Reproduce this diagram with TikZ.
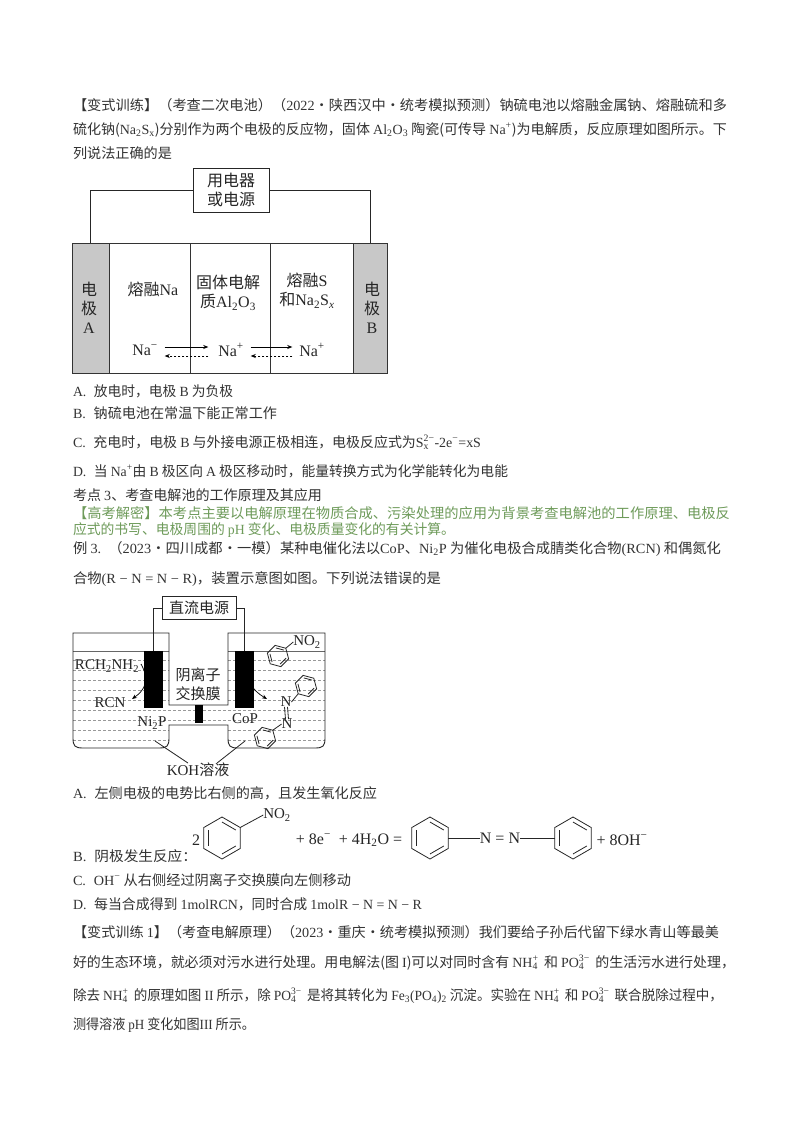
\documentclass[tikz,border=0pt]{standalone}
\usepackage{graphicx}
\usepackage{fontspec}
\setmainfont{Noto Sans CJK SC}
\newfontfamily\latfont{Liberation Serif}
\usetikzlibrary{arrows.meta,calc}
\newcommand{\lat}[1]{{\latfont #1}}
\newcommand{\opt}[1]{{\latfont #1.}\hspace{0.55em}}
\newcommand{\sbs}[1]{\textsubscript{#1}}
\newcommand{\sps}[1]{\textsuperscript{#1}}
\newcommand{\subsup}[2]{\rlap{\textsuperscript{#2}}\rlap{\textsubscript{#1}}\hphantom{\textsuperscript{#2}}}
\definecolor{ink}{HTML}{333333}
\definecolor{exam}{HTML}{6E9B5A}
\definecolor{elec}{HTML}{C8C8C8}
\definecolor{liqdash}{HTML}{999999}
\tikzset{
 textline/.style={anchor=base west,inner sep=0pt,outer sep=0pt,text=ink,font=\fontsize{14}{14}\selectfont},
 greenline/.style={textline,text=exam},
 lbl/.style={inner sep=0pt,outer sep=0pt,text=black!85,font=\fontsize{16}{19}\selectfont,align=center},
 cell/.style={draw=black!80,line width=1pt,inner sep=0pt,outer sep=0pt},
 wire/.style={draw=black!85,line width=0.9pt},
 solidarrow/.style={draw=black,line width=0.7pt,-{Stealth[length=5pt,width=4pt]}},
 dasharrow/.style={solidarrow,dash pattern=on 2.5pt off 1.5pt},
 bond/.style={draw=black!85,line width=0.8pt},
 chem/.style={inner sep=0pt,outer sep=0pt,text=black!85,font=\fontsize{15}{15}\selectfont},
}
% name, x, y, width, text
\newcommand{\tl}[6][textline]{\node[#1] (#2) at (#3,#4+5) {\resizebox{#5pt}{\height}{#6}};}
% name, x, y, radius, rotation
\newcommand{\benz}[5]{%
 \coordinate (#1) at (#2,#3);
 \begin{scope}[shift={(#2,#3)},rotate=#5]
  \foreach \i in {0,...,5}{\coordinate (#1-\i) at ({30+60*\i}:#4);}
 \end{scope}
 \draw[bond] (#1-0)--(#1-1)--(#1-2)--(#1-3)--(#1-4)--(#1-5)--cycle;
 \draw[bond] ($(#1)!0.76!(#1-0)$)--($(#1)!0.76!(#1-1)$);
 \draw[bond] ($(#1)!0.76!(#1-2)$)--($(#1)!0.76!(#1-3)$);
 \draw[bond] ($(#1)!0.76!(#1-4)$)--($(#1)!0.76!(#1-5)$);
}
\begin{document}
\begin{tikzpicture}[x=1pt,y=-1pt]
\useasboundingbox[fill=white] (0,0) rectangle (800,1132);

% ---------- top text
\tl{t1}{73}{105}{654}{【变式训练】（考查二次电池）（\lat{2022}•陕西汉中•统考模拟预测）钠硫电池以熔融金属钠、熔融硫和多}
\tl{t2}{73}{129}{654}{硫化钠(\lat{Na\sbs{2}S\sbs{x}})分别作为两个电极的反应物，固体 \lat{Al\sbs{2}O\sbs{3}} 陶瓷(可传导 \lat{Na\sps{+}})为电解质，反应原理如图所示。下}
\tl{t3}{73}{153}{99}{列说法正确的是}

% ---------- battery diagram
\node[cell,fill=elec,minimum width=37pt,minimum height=130pt] (eA) at (90.5,308) {};
\node[cell,minimum width=81pt,minimum height=130pt] (sod) at (149.5,308) {};
\node[cell,minimum width=80pt,minimum height=130pt] (sol) at (230,308) {};
\node[cell,minimum width=83pt,minimum height=130pt] (sul) at (311.5,308) {};
\node[cell,fill=elec,minimum width=34pt,minimum height=130pt] (eB) at (370,308) {};
\node[cell,fill=white,minimum width=76pt,minimum height=44pt,lbl,draw=black!85] (load) at (231,190) {用电器\\或电源};
\draw[wire] (load.west) -| (eA.north);
\draw[wire] (load.east) -| (eB.north);
\node[lbl] (la) at (89,308) {电\\极\\\lat{A}};
\node[lbl] (lb) at (372,308) {电\\极\\\lat{B}};
\node[lbl] (l1) at (153,289) {熔融\lat{Na}};
\node[lbl] (l2) at (228,293) {固体电解\\质\lat{Al\sbs{2}O\sbs{3}}};
\node[lbl] (l3) at (307,291) {熔融\lat{S}\\和\lat{Na\sbs{2}S\sbs{\textit{x}}}};
\node[lbl] (n1) at (145,350) {\lat{Na\sps{−}}};
\node[lbl] (n2) at (231,350) {\lat{Na\sps{+}}};
\node[lbl] (n3) at (312,350) {\lat{Na\sps{+}}};
\draw[solidarrow,shorten <=7pt,shorten >=10pt] ([yshift=3pt]n1.east) -- ([yshift=3pt]n2.west);
\draw[dasharrow,shorten <=10pt,shorten >=7pt] ([yshift=-6pt]n2.west) -- ([yshift=-6pt]n1.east);
\draw[solidarrow,shorten <=7pt,shorten >=7pt] ([yshift=3pt]n2.east) -- ([yshift=3pt]n3.west);
\draw[dasharrow,shorten <=7pt,shorten >=7pt] ([yshift=-6pt]n3.west) -- ([yshift=-6pt]n2.east);

% ---------- options
\tl{a1}{73}{391}{160}{\opt{A}放电时，电极 \lat{B} 为负极}
\tl{b1}{73}{413}{204}{\opt{B}钠硫电池在常温下能正常工作}
\tl{c1}{73}{442}{408}{\opt{C}充电时，电极 \lat{B} 与外接电源正极相连，电极反应式为\lat{S\subsup{x}{2−}-2e\sps{−}=xS}}
\tl{d1}{73}{471}{435}{\opt{D}当 \lat{Na\sps{+}}由 \lat{B} 极区向 \lat{A} 极区移动时，能量转换方式为化学能转化为电能}
\tl{k3}{73}{495}{249}{考点 \lat{3}、考查电解池的工作原理及其应用}
\tl[greenline]{g1}{73}{513}{657}{【高考解密】本考点主要以电解原理在物质合成、污染处理的应用为背景考查电解池的工作原理、电极反}
\tl[greenline]{g2}{73}{529}{382}{应式的书写、电极周围的 \lat{pH} 变化、电极质量变化的有关计算。}
\tl{e1}{73}{548}{648}{例 \lat{3.}\hspace{0.5em}（\lat{2023}•四川成都•一模）某种电催化法以\lat{CoP}、\lat{Ni\sbs{2}P} 为催化电极合成腈类化合物\lat{(RCN)} 和偶氮化}
\tl{e2}{73}{578}{368}{合物\lat{(R − N = N − R)}，装置示意图如图。下列说法错误的是}

% ---------- electrolysis diagram
\begin{scope}
 \clip (73,651) -- (73,748) -- (169,748) -- (169,725) -- (228,725) -- (228,748) -- (325,748) -- (325,651) -- (228,651) -- (228,705) -- (169,705) -- (169,651) -- cycle;
 \foreach \yy in {660,670,...,740}{\draw[liqdash,line width=0.6pt,dash pattern=on 3pt off 2pt] (73,\yy) -- (325,\yy);}
 \draw[draw=black!60,line width=1.4pt] (73,651) -- (325,651);
\end{scope}
\draw[black!85,line width=0.9pt] (169,633) -- (73,633) -- (73,738) .. controls (73,746) and (75,748) .. (83,748) -- (159,748) .. controls (167,748) and (169,746) .. (169,738) -- (169,725) -- (228,725) -- (228,738) .. controls (228,746) and (230,748) .. (238,748) -- (315,748) .. controls (323,748) and (325,746) .. (325,738) -- (325,633) -- (228,633) -- (228,705) -- (169,705) -- cycle;
\draw[solidarrow] (141,664) .. controls (150,680) and (145,690) .. (132,699);
\draw[solidarrow] (252,666) .. controls (245,680) and (252,690) .. (267,699);
\node[inner sep=0pt,outer sep=0pt,fill=black,minimum width=19pt,minimum height=57pt] (eL) at (153.5,679.5) {};
\node[inner sep=0pt,outer sep=0pt,fill=black,minimum width=19pt,minimum height=57pt] (eR) at (244.5,679.5) {};
\node[inner sep=0pt,outer sep=0pt,fill=black,minimum width=8pt,minimum height=18pt] (mem) at (199,714) {};
\node[cell,draw=black!85,lbl,minimum width=74pt,minimum height=23pt,font=\fontsize{15}{15}\selectfont] (psu) at (199,608) {直流电源};
\draw[wire] (psu.west) -| (eL.north);
\draw[wire] (psu.east) -| (eR.north);
\node[lbl,font=\fontsize{15}{19}\selectfont] (ion) at (198,684.5) {阴离子\\交换膜};
\node[chem] (rch) at (107,666) {\lat{RCH\sbs{2}NH\sbs{2}}};
\node[chem] (rcn) at (110,703) {\lat{RCN}};
\node[chem] (nip) at (152,723) {\lat{Ni\sbs{2}P}};
\node[chem] (cop) at (245,719) {\lat{CoP}};
\node[chem] (no2) at (307,642) {\lat{NO\sbs{2}}};
\node[chem] (n1x) at (286,702) {\lat{N}};
\node[chem] (n2x) at (287,724) {\lat{N}};
\node[chem] (koh) at (198,770) {\lat{KOH}溶液};
\benz{bt}{278}{656}{11}{15}
\benz{bm}{306}{686}{11}{15}
\benz{bb}{265}{738}{11}{15}
\draw[bond] (bt-5) -- (no2.west);
\draw[bond] (bm-2) -- (n1x.east);
\draw[bond] (n2x.west) -- (bb-5);
\draw[bond] ([xshift=-1.5pt]n1x.south) -- ([xshift=-1.5pt]n2x.north);
\draw[bond] ([xshift=1.5pt]n1x.south) -- ([xshift=1.5pt]n2x.north);
\coordinate (cl) at (155,741);
\coordinate (cr) at (245,741);
\draw[bond] (cl) -- ($(koh.north)+(-10,0)$);
\draw[bond] (cr) -- ($(koh.north)+(19,0)$);

% ---------- options 2
\tl{a2}{73}{793}{304}{\opt{A}左侧电极的电势比右侧的高，且发生氧化反应}
\tl{b2}{73}{856}{124}{\opt{B}阴极发生反应：}
\node[chem,font=\fontsize{16}{16}\selectfont] (c2) at (196,840) {\lat{2}};
\benz{eq1}{222}{838}{21}{0}
\node[chem] (eqno2) at (277,815) {\lat{NO\sbs{2}}};
\draw[bond] (eq1-5) -- (eqno2.west);
\node[chem,font=\fontsize{16}{16}\selectfont] (eqmid) at (349,840) {\lat{+ 8e\sps{−} \ + 4H\sbs{2}O =}};
\benz{eq2}{430}{838}{21}{0}
\node[chem,font=\fontsize{16}{16}\selectfont] (eqn) at (500,838) {\lat{N = N}};
\benz{eq3}{573}{838}{21}{0}
\node[chem,font=\fontsize{16}{16}\selectfont] (eqoh) at (622,840) {\lat{+ 8OH\sps{−}}};
\coordinate (q0) at ($(eq2-5)!0.5!(eq2-0)$);
\coordinate (q1) at ($(eq3-2)!0.5!(eq3-3)$);
\draw[bond] (q0) -- (eqn.west);
\draw[bond] (eqn.east) -- (q1);
\tl{c2l}{73}{880}{278}{\opt{C}\lat{OH\sps{−}} 从右侧经过阴离子交换膜向左侧移动}
\tl{d2l}{73}{904}{349}{\opt{D}每当合成得到 \lat{1molRCN}，同时合成 \lat{1molR − N = N − R}}

% ---------- bottom text
\tl{s1}{73}{932}{646}{【变式训练 \lat{1}】（考查电解原理）（\lat{2023}•重庆•统考模拟预测）我们要给子孙后代留下绿水青山等最美}
\tl{s2}{73}{962}{662}{好的生态环境，就必须对污水进行处理。用电解法(图 \lat{I})可以对同时含有 \lat{NH\subsup{4}{+}}\, 和 \lat{PO\subsup{4}{3−}}\, 的生活污水进行处理，}
\tl{s3}{73}{995}{650}{除去 \lat{NH\subsup{4}{+}}\, 的原理如图 \lat{II} 所示，除 \lat{PO\subsup{4}{3−}}\, 是将其转化为 \lat{Fe\sbs{3}(PO\sbs{4})\sbs{2}} 沉淀。实验在 \lat{NH\subsup{4}{+}}\, 和 \lat{PO\subsup{4}{3−}}\, 联合脱除过程中，}
\tl{s4}{73}{1024}{182}{测得溶液 \lat{pH} 变化如图\lat{III} 所示。}
\end{tikzpicture}
\end{document}
